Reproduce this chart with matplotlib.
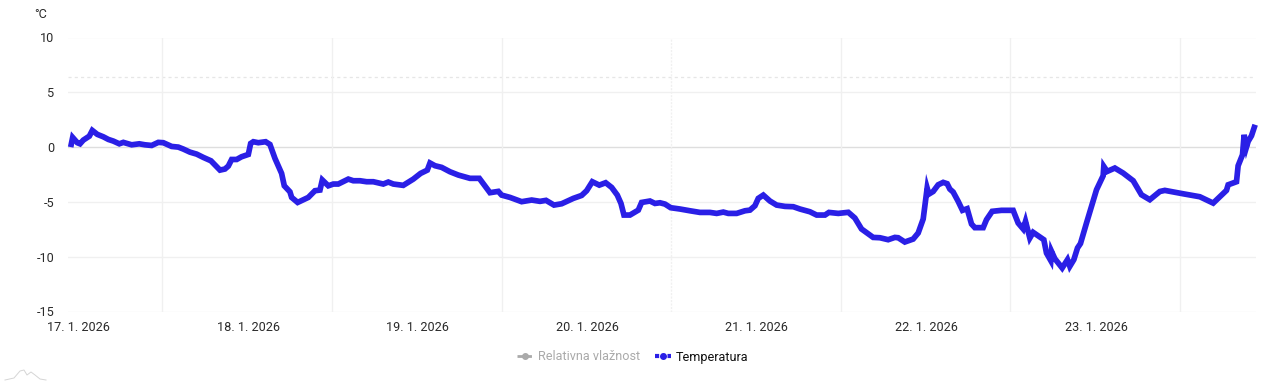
import matplotlib
matplotlib.use("Agg")
import matplotlib.pyplot as plt
from matplotlib.lines import Line2D

plt.rcParams['font.family'] = ['Roboto', 'DejaVu Sans']

hours = [0.10,0.38,1.04,1.42,1.89,2.74,3.16,3.87,4.72,5.43,6.13,6.98,7.55,8.73,9.81,10.61,11.56,12.50,13.21,14.39,
15.33,16.04,16.98,17.93,18.87,19.95,21.23,21.93,22.41,22.88,23.59,24.29,25.24,25.57,25.95,26.65,27.69,28.30,29.01,29.95,
30.33,31.13,31.37,32.22,33.73,34.67,35.38,35.71,36.56,37.27,37.97,39.39,40.10,41.04,41.98,42.93,44.34,45.05,45.76,47.17,
48.59,49.62,50.57,50.95,51.66,52.6,53.78,54.96,56.61,57.93,59.44,60.62,61.09,62.27,63.92,65.34,66.52,67.37,68.50,69.58,
71.23,72.41,73.12,73.92,74.91,75.81,76.66,77.46,77.98,78.40,79.25,80.43,80.90,82.08,82.79,83.50,84.21,85.01,86.33,87.74,
89.16,90.57,91.52,92.46,93.17,94.35,95.53,96.23,96.94,97.41,98.12,99.06,100.01,101.19,102.37,103.31,104.72,105.67,106.85,107.41,
108.73,110.15,111.08,112.02,113.67,114.62,115.79,116.74,117.21,118.15,119.33,120.04,120.75,121.31,121.55,122.16,122.87,123.58,124.14,124.52,
124.99,125.70,126.31,126.97,127.59,128.06,129.24,129.71,130.51,131.83,133.48,134.19,134.90,135.23,135.84,136.31,137.82,138.2,138.81,138.91,
139.38,140.42,141.17,141.50,142.07,142.59,143.01,143.86,145.28,146.22,146.31,146.79,147.87,149.05,150.47,151.64,152.82,154.24,154.95,157.54,
159.90,161.79,163.67,163.91,165.09,165.32,165.94,166.17,166.50,166.74,167.21,167.73]

temperature = [0.0,0.88,0.40,0.30,0.64,1.0,1.52,1.16,0.94,0.70,0.55,0.30,0.43,0.21,0.30,0.21,0.15,0.43,0.40,0.06,
0.0,-0.18,-0.46,-0.64,-0.94,-1.25,-2.1,-2.0,-1.73,-1.13,-1.13,-0.88,-0.67,0.33,0.49,0.40,0.49,0.24,-1.03,-2.4,
-3.53,-4.08,-4.59,-5.05,-4.59,-3.98,-3.92,-3.0,-3.53,-3.37,-3.37,-2.92,-3.07,-3.07,-3.16,-3.16,-3.37,-3.19,-3.37,-3.49,
-2.92,-2.40,-2.10,-1.45,-1.70,-1.85,-2.25,-2.55,-2.85,-2.85,-4.16,-4.04,-4.38,-4.59,-4.98,-4.83,-4.95,-4.86,-5.29,-5.17,
-4.68,-4.41,-3.98,-3.16,-3.47,-3.25,-3.68,-4.38,-5.14,-6.2,-6.2,-5.75,-5.05,-4.92,-5.14,-5.08,-5.2,-5.53,-5.65,-5.81,
-5.96,-5.96,-6.05,-5.93,-6.05,-6.05,-5.81,-5.75,-5.35,-4.68,-4.38,-4.92,-5.29,-5.41,-5.44,-5.65,-5.9,-6.2,-6.2,-5.96,
-6.05,-5.95,-6.47,-7.47,-8.24,-8.27,-8.45,-8.24,-8.27,-8.66,-8.39,-7.84,-6.56,-3.74,-4.29,-4.05,-3.44,-3.22,-3.34,-3.83,
-4.10,-4.95,-5.77,-5.62,-7.02,-7.35,-7.35,-6.62,-5.86,-5.77,-5.77,-6.93,-7.47,-6.77,-8.3,-7.78,-8.45,-9.67,-10.36,-9.51,
-10.18,-11.03,-10.27,-10.88,-10.27,-9.2,-8.8,-6.93,-3.89,-2.61,-1.76,-2.22,-1.91,-2.37,-3.07,-4.35,-4.8,-4.05,-3.95,-4.26,
-4.53,-5.11,-3.95,-3.44,-3.16,-1.7,-0.7,1.12,0.0,0.52,1.03,2.04]

day_labels = ["17. 1. 2026","18. 1. 2026","19. 1. 2026","20. 1. 2026","21. 1. 2026","22. 1. 2026","23. 1. 2026"]
y_ticks = [10,5,0,-5,-10,-15]
y_tick_labels = ["10","5","0","-5","-10","-15"]
reference_level = 6.4
label_hours = [1.2+24*i for i in range(7)]
grid_hours = [13.09+24*i for i in range(7)]

W, H = 1280, 384
fig = plt.figure(figsize=(12.8,3.84), dpi=100, facecolor='white')
ax = fig.add_axes([68/W, 1-311.5/H, (1256-68)/W, (311.5-37.5)/H])
ax.set_xlim(-0.28,167.85)
ax.set_ylim(-15,10)
for s in ax.spines.values():
    s.set_visible(False)

ax.set_yticks(y_ticks, y_tick_labels)
ax.set_xticks(label_hours, day_labels)
ax.tick_params(axis='both', length=0, labelsize=9.1, colors='#2a2a2a')
ax.tick_params(axis='y', pad=10)
ax.tick_params(axis='x', pad=7)

for v in y_ticks:
    ax.axhline(v, color='#dedede' if v==0 else '#f0f0f0', lw=1, zorder=1)
ax.axhline(reference_level, color='#e6e6e6', lw=0.9, ls=(0,(2.5,2.5)), zorder=1)
for i, g in enumerate(grid_hours):
    ax.axvline(g, color='#f0f0f0', lw=1, ls=(0,(1.5,1)) if i==3 else '-', zorder=1)

ax.plot(hours, temperature, color='#2a1fe6', lw=4.1, solid_joinstyle='miter',
        solid_capstyle='butt', zorder=3, clip_on=False)

fig.text(40.5/W, 1-14/H, "°C", ha='center', va='center', fontsize=9.1, color='#2a2a2a')

handles = [
    Line2D([],[],color='#aaaaaa',lw=2,ls=(0,(2,1.2)),marker='o',ms=4),
    Line2D([],[],color='#2a1fe6',lw=3,ls=(0,(1,0.5)),marker='o',ms=4),
]
fig.legend(handles, ["Relativna vlažnost","Temperatura"], ncol=2, frameon=False,
           loc='center', bbox_to_anchor=(632.5/W, 1-357/H), fontsize=9.1,
           handlelength=1.3, handletextpad=0.35, columnspacing=1.2, labelcolor=['#aaaaaa','#111111'])

logo_x = [5,14,20,24,27,31,35,40,46]
logo_y = [380,378,371,370,375,372,375,379,380]
fig.add_artist(Line2D([x/W for x in logo_x],[1-y/H for y in logo_y],color='#d5d5d5',lw=0.7))

fig.savefig('out.png', dpi=100)
